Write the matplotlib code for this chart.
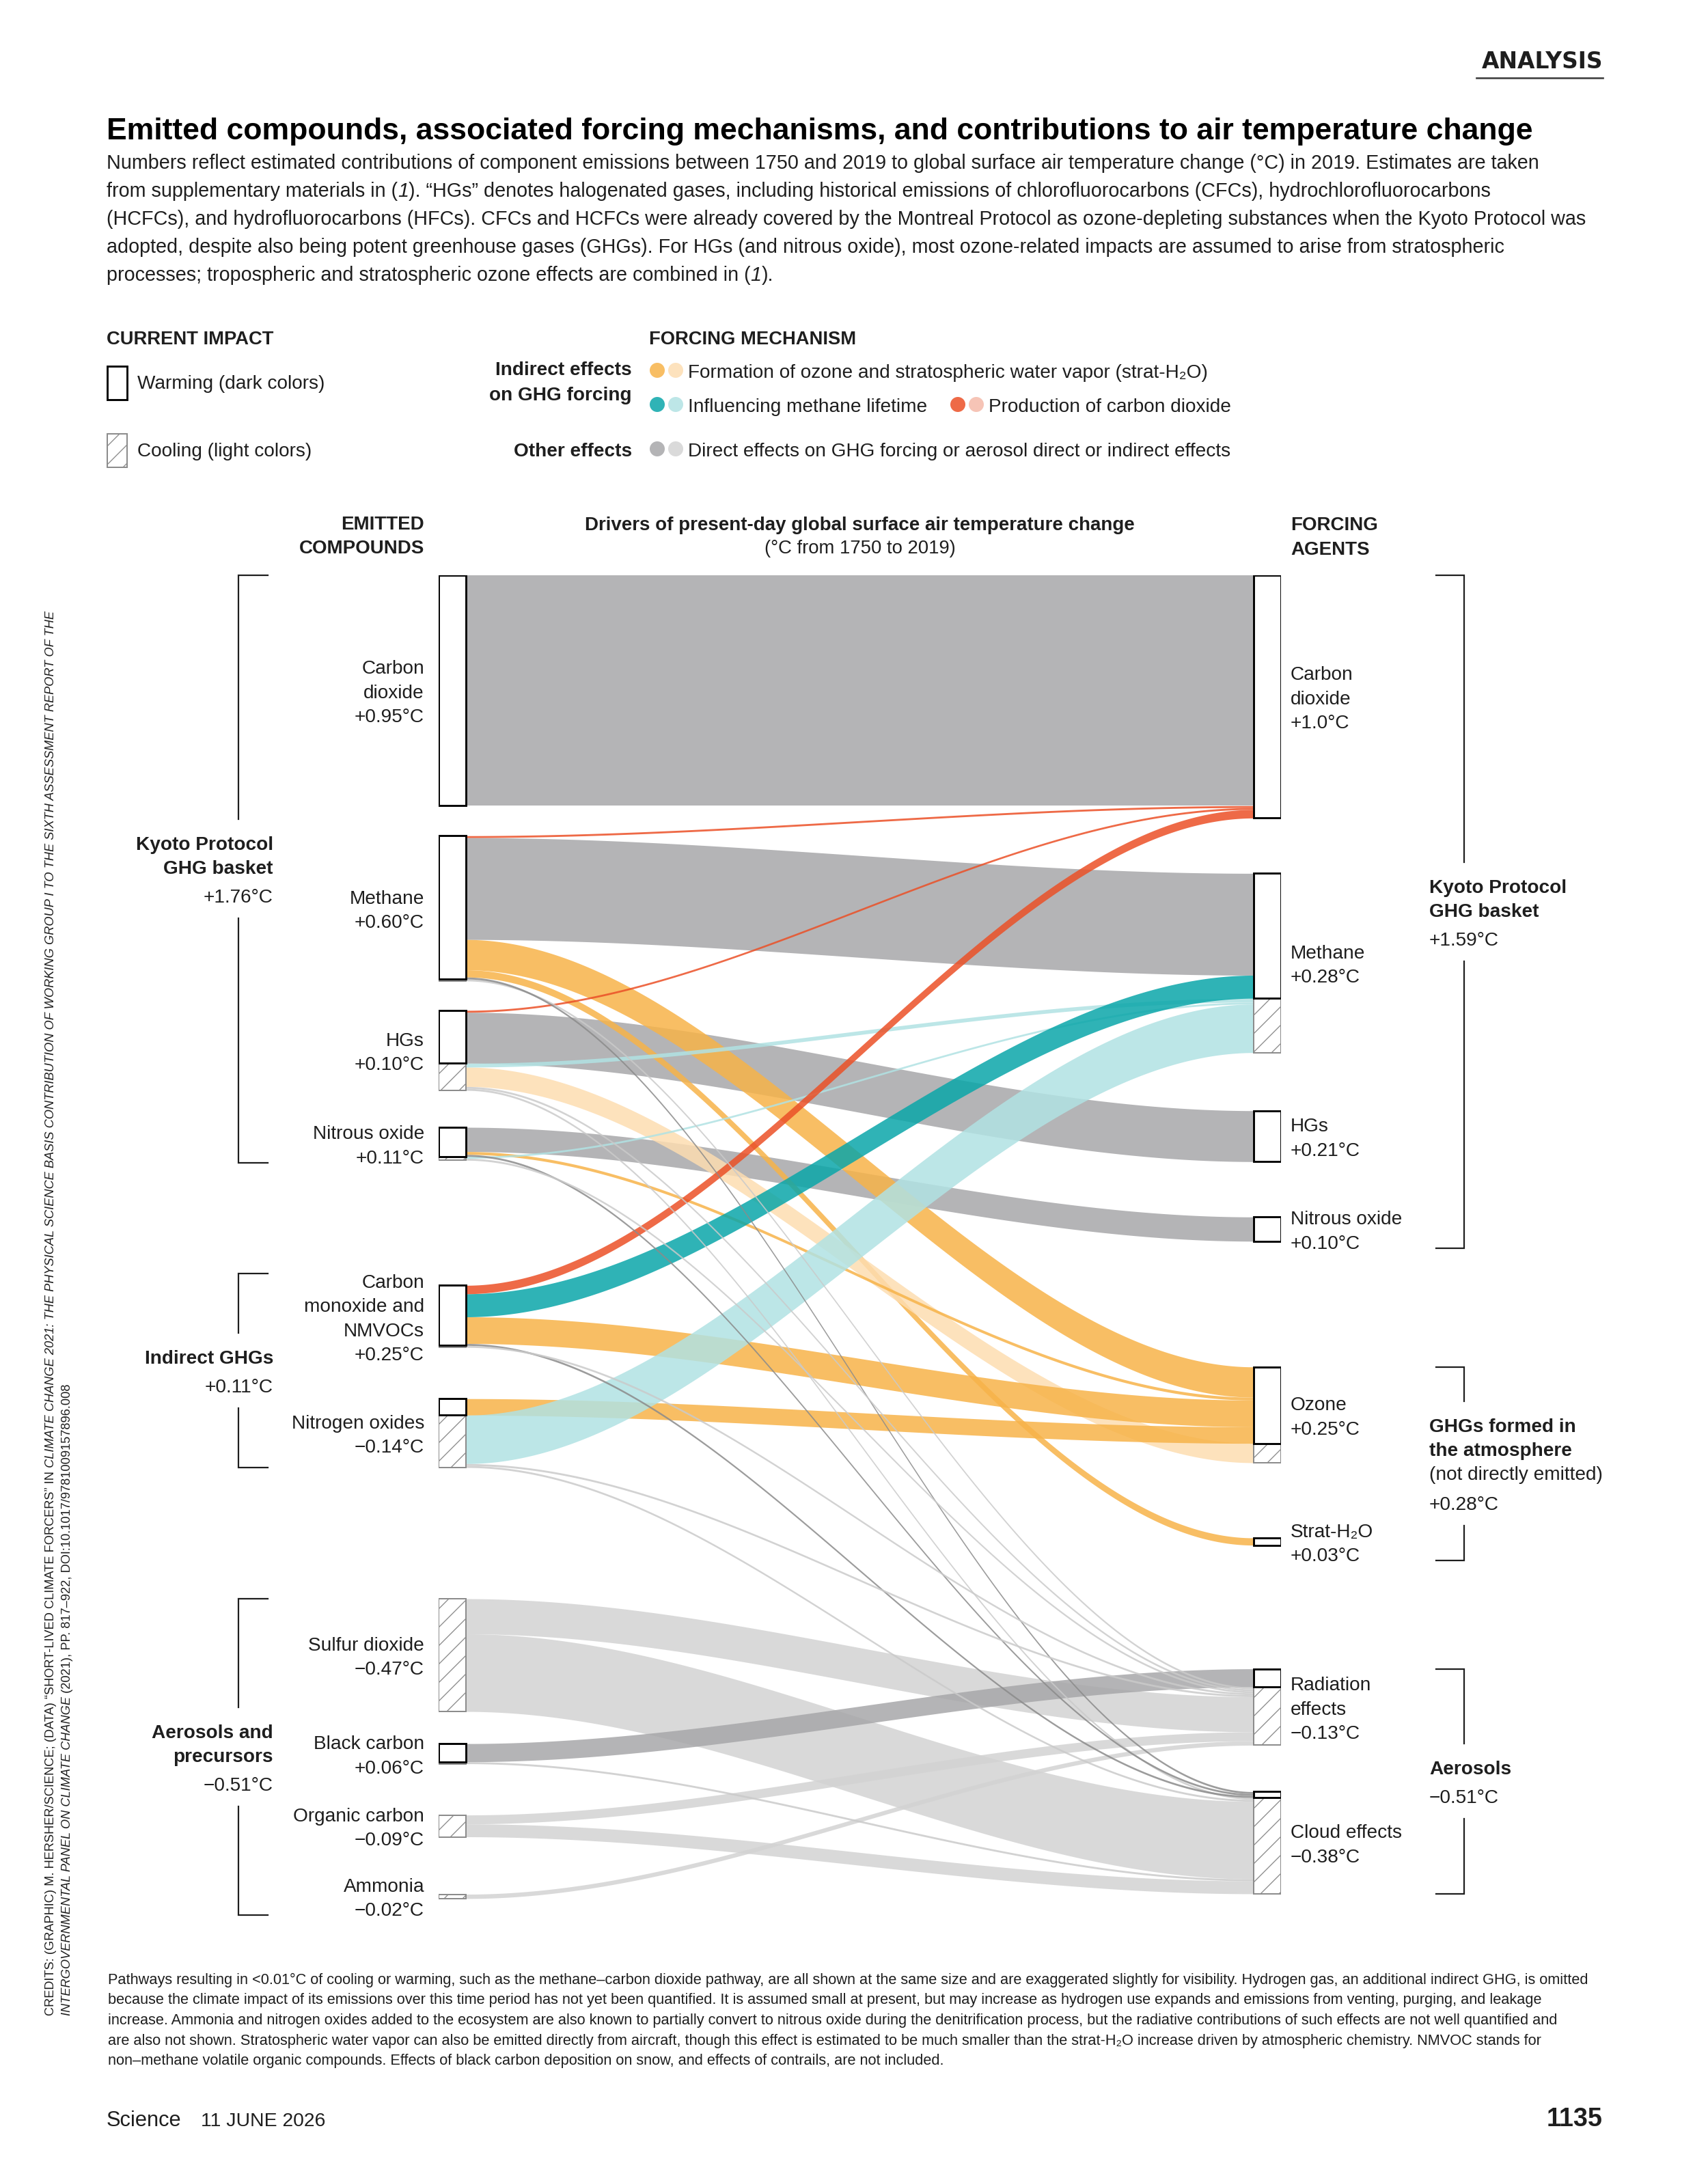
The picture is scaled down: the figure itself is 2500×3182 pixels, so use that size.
import numpy as np
import matplotlib
matplotlib.use("Agg")
import matplotlib.pyplot as plt
from matplotlib.patches import Rectangle, Circle
from matplotlib.collections import LineCollection
from matplotlib import colors as mcolors

W, H, DPI = 2500, 3182, 160
NARROW = ['Liberation Sans Narrow', 'DejaVu Sans Condensed', 'Liberation Sans', 'DejaVu Sans']
WIDE = ['Liberation Sans', 'DejaVu Sans']
plt.rcParams['font.family'] = NARROW
TXT = '#1e1e1e'
FS = 12.6        # label size
HATCH = '#8c8c8c'

# ---------------------------------------------------------------
# data (°C, 1750-2019)
# ---------------------------------------------------------------
left_names = ["Carbon\ndioxide", "Methane", "HGs", "Nitrous oxide",
              "Carbon\nmonoxide and\nNMVOCs", "Nitrogen oxides", "Sulfur dioxide",
              "Black carbon", "Organic carbon", "Ammonia"]
left_totals = ["+0.95°C", "+0.60°C", "+0.10°C", "+0.11°C", "+0.25°C",
               "\u22120.14°C", "\u22120.47°C", "+0.06°C", "\u22120.09°C", "\u22120.02°C"]
right_names = ["Carbon\ndioxide", "Methane", "HGs", "Nitrous oxide", "Ozone",
               "Strat-H\u2082O", "Radiation\neffects", "Cloud effects"]
right_totals = ["+1.0°C", "+0.28°C", "+0.21°C", "+0.10°C", "+0.25°C", "+0.03°C",
                "\u22120.13°C", "\u22120.38°C"]

THIN = 0.008  # pathways < 0.01°C, all drawn at one small size

# one entry per pathway: source, target, value (negative = cooling), mechanism
flow_src = [0,
            1, 1, 1, 1, 1, 1,
            2, 2, 2, 2, 2, 2,
            3, 3, 3, 3, 3,
            4, 4, 4, 4, 4,
            5, 5, 5, 5,
            6, 6,
            7, 7,
            8, 8,
            9]
flow_tgt = [0,
            0, 1, 4, 5, 6, 7,
            0, 2, 1, 4, 6, 7,
            3, 4, 7, 1, 6,
            0, 1, 4, 7, 6,
            4, 1, 6, 7,
            6, 7,
            6, 7,
            6, 7,
            6]
flow_val = [0.95,
            THIN, 0.42, 0.125, 0.03, -THIN, THIN,
            THIN, 0.21, -0.016, -0.08, -THIN, -THIN,
            0.10, 0.012, THIN, -THIN, -THIN,
            0.035, 0.095, 0.11, THIN, -THIN,
            0.068, -0.20, -THIN, -THIN,
            -0.145, -0.32,
            0.075, -THIN,
            -0.037, -0.053,
            -0.018]
flow_mech = ['direct',
             'co2', 'direct', 'ozone', 'ozone', 'direct', 'direct',
             'co2', 'direct', 'ch4', 'ozone', 'direct', 'direct',
             'direct', 'ozone', 'direct', 'ch4', 'direct',
             'co2', 'ch4', 'ozone', 'direct', 'direct',
             'ozone', 'ch4', 'direct', 'direct',
             'direct', 'direct',
             'direct', 'direct',
             'direct', 'direct',
             'direct']

left_groups = [("Kyoto Protocol\nGHG basket", "+1.76°C", 0, 3),
               ("Indirect GHGs", "+0.11°C", 4, 5),
               ("Aerosols and\nprecursors", "\u22120.51°C", 6, 9)]
right_groups = [("Kyoto Protocol\nGHG basket", "+1.59°C", 0, 3),
                ("GHGs formed in\nthe atmosphere", "(not directly emitted)\n+0.28°C", 4, 5),
                ("Aerosols", "\u22120.51°C", 6, 7)]

# warm (dark) / cool (light) colour per mechanism
mech_colors = {'direct': ('#b4b4b6', '#dadada'),
               'ozone': ('#f8be64', '#fde2bd'),
               'ch4': ('#2fb3b6', '#bde6e7'),
               'co2': ('#ee6a47', '#f6c4b6')}
thin_colors = ('#9c9c9c', '#d2d2d2')

# ---------------------------------------------------------------
# layout
# ---------------------------------------------------------------
PX = 355.0                     # pixels per °C
SX0, SX1 = 642, 1875           # left edge of left bars, right edge of right bars
TOP_PX, BOT_PX = 842, 2830
BW = 40 / (SX1 - SX0)
left_gap_px = [44, 43, 54, 183, 75, 192, 47, 75, 84]
right_gap_px = [81, 85, 81, 184, 110, 181, 68]
LH = 35.5


def sx(px):
    return (px - SX0) / (SX1 - SX0)


def dy(px):
    return px / PX


fig = plt.figure(figsize=(W / DPI, H / DPI), dpi=DPI)
ax = fig.add_axes([0, 0, 1, 1])
ax.set_xlim(0, W)
ax.set_ylim(H, 0)
ax.axis('off')
axs = fig.add_axes([SX0 / W, 1 - BOT_PX / H, (SX1 - SX0) / W, (BOT_PX - TOP_PX) / H])
axs.set_xlim(0, 1)
axs.set_ylim((BOT_PX - TOP_PX) / PX, 0)
axs.axis('off')
renderer = fig.canvas.get_renderer()


def hatch(a, x0p, y0p, x1p, y1p, to_data, z, step=27):
    # diagonal '/' lines clipped to a box given in pixels
    segs = []
    c = np.ceil((x0p + y0p) / step) * step
    while c <= x1p + y1p:
        xa, xb = max(x0p, c - y1p), min(x1p, c - y0p)
        if xb > xa:
            segs.append([to_data(xa, c - xa), to_data(xb, c - xb)])
        c += step
    a.add_collection(LineCollection(segs, colors=HATCH, linewidths=0.6, zorder=z))


def s_data(xp, yp):
    return ((xp - SX0) / (SX1 - SX0), (yp - TOP_PX) / PX)


nL, nR = len(left_names), len(right_names)
vals = np.array(flow_val)
L_warm, L_cool = np.zeros(nL), np.zeros(nL)
R_warm, R_cool = np.zeros(nR), np.zeros(nR)
for s, t, v in zip(flow_src, flow_tgt, vals):
    if v > 0:
        L_warm[s] += v
        R_warm[t] += v
    else:
        L_cool[s] -= v
        R_cool[t] -= v


def stack(warm, cool, gaps):
    tops = np.zeros(len(warm))
    for i in range(1, len(warm)):
        tops[i] = tops[i - 1] + warm[i - 1] + cool[i - 1] + dy(gaps[i - 1])
    return tops


L_top = stack(L_warm, L_cool, left_gap_px)
R_top = stack(R_warm, R_cool, right_gap_px)

# slot positions of each pathway on both ends
nF = len(vals)
y_src, y_tgt = np.zeros(nF), np.zeros(nF)
for i in range(nL):
    idx = sorted([k for k in range(nF) if flow_src[k] == i], key=lambda k: (vals[k] < 0, flow_tgt[k]))
    y = L_top[i]
    for k in idx:
        y_src[k] = y
        y += abs(vals[k])
for j in range(nR):
    idx = sorted([k for k in range(nF) if flow_tgt[k] == j], key=lambda k: (vals[k] < 0, flow_src[k]))
    y = R_top[j]
    for k in idx:
        y_tgt[k] = y
        y += abs(vals[k])

ALPHA = 0.85


def under(c):
    rgb = np.array(mcolors.to_rgb(c))
    return tuple(np.clip((rgb - (1 - ALPHA)) / ALPHA, 0, 1))


x0, x1 = BW, 1 - BW
xs = np.linspace(x0, x1, 400)
tt = (xs - x0) / (x1 - x0)
ss = tt * tt * (3 - 2 * tt)
zord = {'direct': 1, 'ozone': 2, 'ch4': 3, 'co2': 4}
for k in range(nF):
    v = vals[k]
    w = abs(v)
    if w < 0.01 and flow_mech[k] == 'direct':
        col = thin_colors[0] if v > 0 else thin_colors[1]
        z = 5
    else:
        col = mech_colors[flow_mech[k]][0 if v > 0 else 1]
        z = zord[flow_mech[k]]
    top = y_src[k] + (y_tgt[k] - y_src[k]) * ss
    axs.fill_between(xs, top, top + w, color=under(col), alpha=ALPHA, lw=0, zorder=z)

# node boxes
for tops, warm, cool, xb in [(L_top, L_warm, L_cool, 0), (R_top, R_warm, R_cool, 1 - BW)]:
    for i in range(len(tops)):
        if cool[i] > 0:
            yc0 = tops[i] + warm[i]
            axs.add_patch(Rectangle((xb, yc0), BW, cool[i], fc='white', ec=HATCH, lw=0.9, zorder=8))
            hatch(axs, SX0 + xb * (SX1 - SX0), TOP_PX + yc0 * PX,
                  SX0 + (xb + BW) * (SX1 - SX0), TOP_PX + (yc0 + cool[i]) * PX, s_data, 8.5)
        if warm[i] > 0:
            axs.add_patch(Rectangle((xb, tops[i]), BW, warm[i], fc='white', ec='black', lw=1.3, zorder=9))


def line_block(a, x, yc, lines, ha, size=FS):
    n = len(lines)
    for j, line in enumerate(lines):
        yl = yc + dy((j - (n - 1) / 2) * LH + 11)
        a.text(x, yl, line, ha=ha, va='baseline', fontsize=size, color=TXT)


L_mid = L_top + (L_warm + L_cool) / 2
R_mid = R_top + (R_warm + R_cool) / 2
for i in range(nL):
    line_block(axs, sx(621), L_mid[i], left_names[i].split('\n') + [left_totals[i]], 'right')
for j in range(nR):
    line_block(axs, sx(1889), R_mid[j], right_names[j].split('\n') + [right_totals[j]], 'left')


def bracket(groups, tops, warm, cool, mids, names, side):
    if side == 'left':
        xl, xt, xtxt, ha = sx(349), sx(392), sx(400), 'right'
    else:
        xl, xt, xtxt, ha = sx(2143), sx(2102), sx(2092), 'left'
    for bold, reg, i0, i1 in groups:
        n0 = len(names[i0].split('\n')) + 1
        n1 = len(names[i1].split('\n')) + 1
        ytop = min(tops[i0], mids[i0] - dy(n0 * LH / 2 - 8))
        ybot = max(tops[i1] + warm[i1] + cool[i1], mids[i1] + dy(n1 * LH / 2 - 8))
        mid = (ytop + ybot) / 2
        blines = bold.split('\n')
        rlines = reg.split('\n')
        offs = []
        o = 0
        for b in blines:
            offs.append(o)
            o += 35
        for r in rlines[:-1]:
            offs.append(o)
            o += 37
        o += 7
        offs.append(o)
        span = offs[-1]
        for j, txt in enumerate(blines + rlines):
            yl = mid + dy(offs[j] - span / 2 + 11)
            axs.text(xtxt, yl, txt, ha=ha, va='baseline', fontsize=FS, color=TXT,
                     fontweight='bold' if j < len(blines) else 'normal', clip_on=False)
        gap = dy(span / 2 + 34)
        axs.plot([xt, xl, xl], [ytop, ytop, mid - gap], color='#1e1e1e', lw=1.0,
                 clip_on=False, solid_joinstyle='miter')
        axs.plot([xl, xl, xt], [mid + gap, ybot, ybot], color='#1e1e1e', lw=1.0,
                 clip_on=False, solid_joinstyle='miter')


bracket(left_groups, L_top, L_warm, L_cool, L_mid, left_names, 'left')
bracket(right_groups, R_top, R_warm, R_cool, R_mid, right_names, 'right')

# ---------------------------------------------------------------
# text helpers (pixel coordinates on ax)
# ---------------------------------------------------------------


def fitted_size(text, width, size, **kw):
    t = ax.text(0, 0, text, fontsize=size, **kw)
    bb = t.get_window_extent(renderer)
    t.remove()
    return size * width / bb.width


def rich(x, y, parts, size, rotation=0, family=None, weight='normal'):
    for txt, style in parts:
        t = ax.text(x, y, txt, fontsize=size, fontstyle=style, rotation=rotation,
                    rotation_mode='anchor', ha='left', va='baseline', color=TXT,
                    family=family or NARROW, fontweight=weight)
        bb = t.get_window_extent(renderer)
        if rotation == 0:
            x += bb.width
        else:
            y -= bb.height


# header
ax.text(2346, 100, "ANALYSIS", ha='right', va='baseline', fontsize=14.8, fontweight='bold',
        family=['DejaVu Sans'], color=TXT)
ax.plot([2161, 2346], [114, 114], color='#444444', lw=1.2)

title = "Emitted compounds, associated forcing mechanisms, and contributions to air temperature change"
ts = fitted_size(title, 2088, 22, fontweight='bold')
ax.text(156, 204, title, fontsize=ts, fontweight='bold', va='baseline', color='black')

sub = [
    [("Numbers reflect estimated contributions of component emissions between 1750 and 2019 to global surface air temperature change (°C) in 2019. Estimates are taken", 'normal')],
    [("from supplementary materials in (", 'normal'), ("1", 'italic'),
     ("). \u201cHGs\u201d denotes halogenated gases, including historical emissions of chlorofluorocarbons (CFCs), hydrochlorofluorocarbons", 'normal')],
    [("(HCFCs), and hydrofluorocarbons (HFCs). CFCs and HCFCs were already covered by the Montreal Protocol as ozone-depleting substances when the Kyoto Protocol was", 'normal')],
    [("adopted, despite also being potent greenhouse gases (GHGs). For HGs (and nitrous oxide), most ozone-related impacts are assumed to arise from stratospheric", 'normal')],
    [("processes; tropospheric and stratospheric ozone effects are combined in (", 'normal'), ("1", 'italic'), (").", 'normal')],
]
ss_sub = fitted_size(sub[2][0][0], 2167, 14)
for i, parts in enumerate(sub):
    rich(156, 247 + 41 * i, parts, ss_sub)

# legend
ax.text(156, 504, "CURRENT IMPACT", fontsize=12.3, fontweight='bold', va='baseline', color=TXT)
ax.text(950, 504, "FORCING MECHANISM", fontsize=12.3, fontweight='bold', va='baseline', color=TXT)
ax.add_patch(Rectangle((157, 536), 29, 49, fc='white', ec='black', lw=1.3))
ax.add_patch(Rectangle((157, 635), 29, 49, fc='white', ec=HATCH, lw=0.9))
hatch(ax, 157, 635, 186, 684, lambda a, b: (a, b), 3)
ax.text(201, 569, "Warming (dark colors)", fontsize=FS, va='baseline', color=TXT)
ax.text(201, 668, "Cooling (light colors)", fontsize=FS, va='baseline', color=TXT)
ax.text(925, 549, "Indirect effects", fontsize=FS, fontweight='bold', ha='right', va='baseline', color=TXT)
ax.text(925, 586, "on GHG forcing", fontsize=FS, fontweight='bold', ha='right', va='baseline', color=TXT)
ax.text(925, 668, "Other effects", fontsize=FS, fontweight='bold', ha='right', va='baseline', color=TXT)
legend_rows = [('ozone', 962, 542, "Formation of ozone and stratospheric water vapor (strat-H\u2082O)"),
               ('ch4', 962, 592, "Influencing methane lifetime"),
               ('co2', 1402, 592, "Production of carbon dioxide"),
               ('direct', 962, 657, "Direct effects on GHG forcing or aerosol direct or indirect effects")]
for mech, xd, yd, label in legend_rows:
    ax.add_patch(Circle((xd, yd), 11, color=mech_colors[mech][0], lw=0))
    ax.add_patch(Circle((xd + 27, yd), 11, color=mech_colors[mech][1], lw=0))
    ax.text(xd + 45, yd + 11, label, fontsize=FS, va='baseline', color=TXT)

# column headers
ax.text(621, 775, "EMITTED", fontsize=12.5, fontweight='bold', ha='right', va='baseline', color=TXT)
ax.text(621, 810, "COMPOUNDS", fontsize=12.5, fontweight='bold', ha='right', va='baseline', color=TXT)
ax.text(1889, 776, "FORCING", fontsize=12.5, fontweight='bold', ha='left', va='baseline', color=TXT)
ax.text(1889, 812, "AGENTS", fontsize=12.5, fontweight='bold', ha='left', va='baseline', color=TXT)
ax.text((SX0 + SX1) / 2, 776, "Drivers of present-day global surface air temperature change",
        fontsize=12.5, fontweight='bold', ha='center', va='baseline', color=TXT)
ax.text((SX0 + SX1) / 2, 810, "(°C from 1750 to 2019)", fontsize=12.4, ha='center', va='baseline', color=TXT)

# footnote
foot = [
    [("Pathways resulting in <0.01°C of cooling or warming, such as the methane\u2013carbon dioxide pathway, are all shown at the same size and are exaggerated slightly for visibility. Hydrogen gas, an additional indirect GHG, is omitted", 'normal')],
    [("because the climate impact of its emissions over this time period has not yet been quantified. It is assumed small at present, but may increase as hydrogen use expands and emissions from venting, purging, and leakage", 'normal')],
    [("increase. Ammonia and nitrogen oxides added to the ecosystem are also known to partially convert to nitrous oxide during the denitrification process, but the radiative contributions of such effects are not well quantified and", 'normal')],
    [("are also not shown. Stratospheric water vapor can also be emitted directly from aircraft, though this effect is estimated to be much smaller than the strat-H\u2082O increase driven by atmospheric chemistry. NMVOC stands for", 'normal')],
    [("non\u2013methane volatile organic compounds. Effects of black carbon deposition on snow, and effects of contrails, are not included.", 'normal')],
]
fs_foot = fitted_size(foot[0][0][0], 2184, 10)
for i, parts in enumerate(foot):
    rich(158, 2904 + 29.5 * i, parts, fs_foot)

# credits (vertical)
cred1 = [("CREDITS: (GRAPHIC) M. HERSHER/SCIENCE; (DATA) \u201cSHORT-LIVED CLIMATE FORCERS\u201d IN", 'normal'),
         (" CLIMATE CHANGE 2021: THE PHYSICAL SCIENCE BASIS CONTRIBUTION OF WORKING GROUP I TO THE SIXTH ASSESSMENT REPORT OF THE", 'italic')]
cred2 = [("INTERGOVERNMENTAL PANEL ON CLIMATE CHANGE", 'italic'),
         (" (2021), PP. 817\u2013922, DOI:10.1017/9781009157896.008", 'normal')]
fs_cred = fitted_size(cred1[0][0] + cred1[1][0], 2057, 9, family=WIDE)
rich(79, 2950, cred1, fs_cred, rotation=90, family=WIDE)
rich(103, 2950, cred2, fs_cred, rotation=90, family=WIDE)

# footer
fs_sci = fitted_size("Science", 110, 18)
ax.text(156, 3112, "Science", fontsize=fs_sci, va='baseline', color=TXT)
fs_date = fitted_size("11 JUNE 2026", 183, 10, family=WIDE)
ax.text(294, 3112, "11 JUNE 2026", fontsize=fs_date, va='baseline', family=WIDE, color=TXT)
ax.text(2346, 3112, "1135", fontsize=17, fontweight='bold', ha='right', va='baseline', color=TXT)

fig.savefig("out.png", dpi=DPI, facecolor='white')
